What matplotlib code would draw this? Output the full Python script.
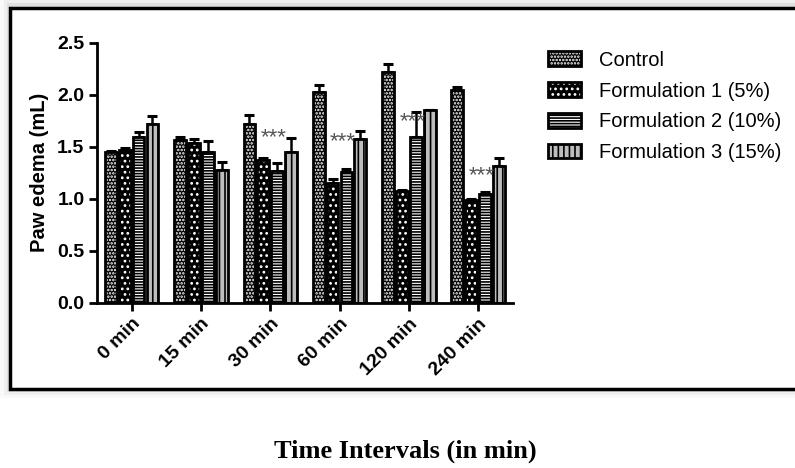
import matplotlib

matplotlib.use("Agg")
import matplotlib.pyplot as plt
import numpy as np
from matplotlib.legend_handler import HandlerTuple
from matplotlib.patches import Patch, Rectangle

# data
times = ["0 min", "15 min", "30 min", "60 min", "120 min", "240 min"]
series = ["Control", "Formulation 1 (5%)", "Formulation 2 (10%)", "Formulation 3 (15%)"]
control = [1.45, 1.56, 1.72, 2.03, 2.22, 2.04]
control_err = [0.01, 0.03, 0.08, 0.06, 0.07, 0.03]
form1 = [1.47, 1.54, 1.37, 1.15, 1.07, 0.99]
form1_err = [0.02, 0.03, 0.02, 0.04, 0.01, 0.01]
form2 = [1.59, 1.45, 1.27, 1.26, 1.59, 1.05]
form2_err = [0.05, 0.10, 0.07, 0.03, 0.24, 0.01]
form3 = [1.72, 1.28, 1.45, 1.57, 1.85, 1.31]
form3_err = [0.07, 0.07, 0.13, 0.08, 0.00, 0.08]
star_y = [None, None, 1.59, 1.55, 1.74, 1.22]

values = [control, form1, form2, form3]
errors = [control_err, form1_err, form2_err, form3_err]
# (face, hatch, hatch colour)
styles = [
    ("black", ".....", "white"),
    ("black", "...", "white"),
    ("white", "------", "black"),
    ("#bdbdbd", "|||", "black"),
]

plt.rcParams["font.family"] = ["Liberation Sans", "DejaVu Sans"]
plt.rcParams["hatch.linewidth"] = 1.2

fig = plt.figure(figsize=(7.95, 4.68), dpi=100)

# outer frame with a soft shadow
for i, a in enumerate([0.06, 0.04, 0.025]):
    fig.patches.append(Rectangle((0.0126 - 0.004 * (i + 1), 0.168 - 0.006 * (i + 1)), 1.1, 0.82 + 0.012 * (i + 1),
                                 transform=fig.transFigure, facecolor="black", alpha=a, lw=0, zorder=0))
fig.patches.append(Rectangle((0.0126, 0.168), 1.1, 0.815, transform=fig.transFigure,
                             facecolor="white", edgecolor="black", lw=2.5, zorder=1))

ax = fig.add_axes([0.122, 0.353, 0.523, 0.556])
ax.set_zorder(2)
ax.patch.set_alpha(0)

x = np.arange(len(times))
w = 0.2
for k in range(4):
    face, hatch, hcol = styles[k]
    pos = x + (k - 1.5) * w
    ax.bar(pos, values[k], w * 0.85, color=face, edgecolor=hcol, hatch=hatch, lw=0, zorder=2)
    ax.bar(pos, values[k], w * 0.85, fill=False, edgecolor="black", lw=2, zorder=3)
    ax.errorbar(pos, values[k], yerr=[np.zeros(len(times)), errors[k]], fmt="none",
                ecolor="black", elinewidth=1.8, capsize=3.5, capthick=2.2, zorder=1)

for i, sy in enumerate(star_y):
    if sy is not None:
        ax.text(x[i] + 0.05, sy, "***", ha="center", va="center", fontsize=16, color="#555555", zorder=4)

ax.set_xlim(-0.5, 5.5)
ax.set_ylim(0, 2.5)
ax.set_yticks([0, 0.5, 1.0, 1.5, 2.0, 2.5])
ax.set_yticklabels(["0.0", "0.5", "1.0", "1.5", "2.0", "2.5"], fontsize=14, fontweight="bold")
ax.set_xticks(x)
ax.set_xticklabels(times, rotation=45, ha="right", rotation_mode="anchor", fontsize=14, fontweight="bold")
ax.set_ylabel("Paw edema (mL)", fontsize=14.5, fontweight="bold", labelpad=6)
for side in ["top", "right"]:
    ax.spines[side].set_visible(False)
for side in ["left", "bottom"]:
    ax.spines[side].set_linewidth(2)
ax.tick_params(width=2, length=6, direction="out", pad=3)

handles = []
for face, hatch, hcol in styles:
    handles.append((Patch(facecolor=face, edgecolor=hcol, hatch=hatch, lw=0),
                    Patch(fill=False, edgecolor="black", lw=2)))
fig.legend(handles, series, handler_map={tuple: HandlerTuple(ndivide=1)},
           loc="upper left", bbox_to_anchor=(0.667, 0.93), frameon=False, fontsize=14.5,
           handlelength=1.6, handleheight=0.75, labelspacing=0.58, handletextpad=0.9)

fig.text(0.51, 0.01, "Time Intervals (in min)", ha="center", va="bottom", fontsize=19,
         fontweight="bold", family=["Liberation Serif", "DejaVu Serif"])

fig.savefig("out.png", dpi=100)
